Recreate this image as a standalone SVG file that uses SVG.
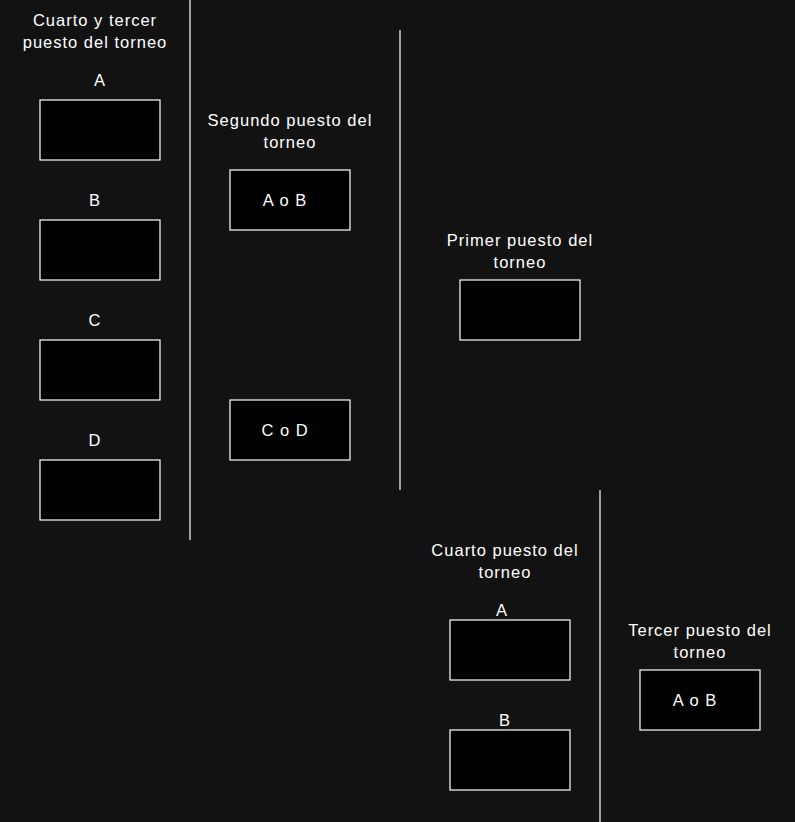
<svg xmlns="http://www.w3.org/2000/svg" width="795" height="822" viewBox="0 0 795 822">
<style>
.bg{fill:#121212}
.box{fill:#000;stroke:#fff;stroke-width:1.2}
.t{fill:#fff;font-family:"Liberation Sans",Arial,sans-serif;font-size:16.5px;text-anchor:middle;letter-spacing:1px}
.sep{stroke:#fff;stroke-width:1.2;fill:none}
</style>
<rect class="bg" x="0" y="0" width="795" height="822"/>
<g id="connectors">
<line class="sep" x1="190" y1="0" x2="190" y2="540"/>
<line class="sep" x1="400" y1="30" x2="400" y2="490"/>
<line class="sep" x1="600" y1="490" x2="600" y2="822"/>
</g>
<g id="title-4y3"><text class="t" x="95" y="26">Cuarto y tercer</text><text class="t" x="95" y="48">puesto del torneo</text></g>
<g id="node-A"><text class="t" x="100" y="86">A</text><rect class="box" x="40" y="100" width="120" height="60"/></g>
<g id="node-B"><text class="t" x="95" y="206">B</text><rect class="box" x="40" y="220" width="120" height="60"/></g>
<g id="node-C"><text class="t" x="95" y="326">C</text><rect class="box" x="40" y="340" width="120" height="60"/></g>
<g id="node-D"><text class="t" x="95" y="446">D</text><rect class="box" x="40" y="460" width="120" height="60"/></g>
<g id="title-2"><text class="t" x="290" y="126">Segundo puesto del</text><text class="t" x="290" y="148">torneo</text></g>
<g id="node-AoB"><rect class="box" x="230" y="170" width="120" height="60"/><text class="t" x="285" y="206">A o B</text></g>
<g id="node-CoD"><rect class="box" x="230" y="400" width="120" height="60"/><text class="t" x="285" y="436">C o D</text></g>
<g id="title-1"><text class="t" x="520" y="246">Primer puesto del</text><text class="t" x="520" y="268">torneo</text></g>
<g id="node-primer"><rect class="box" x="460" y="280" width="120" height="60"/></g>
<g id="title-4"><text class="t" x="505" y="556">Cuarto puesto del</text><text class="t" x="505" y="578">torneo</text></g>
<g id="node-4A"><text class="t" x="502" y="616">A</text><rect class="box" x="450" y="620" width="120" height="60"/></g>
<g id="node-4B"><text class="t" x="505" y="726">B</text><rect class="box" x="450" y="730" width="120" height="60"/></g>
<g id="title-3"><text class="t" x="700" y="636">Tercer puesto del</text><text class="t" x="700" y="658">torneo</text></g>
<g id="node-3AoB"><rect class="box" x="640" y="670" width="120" height="60"/><text class="t" x="695" y="706">A o B</text></g>
</svg>
